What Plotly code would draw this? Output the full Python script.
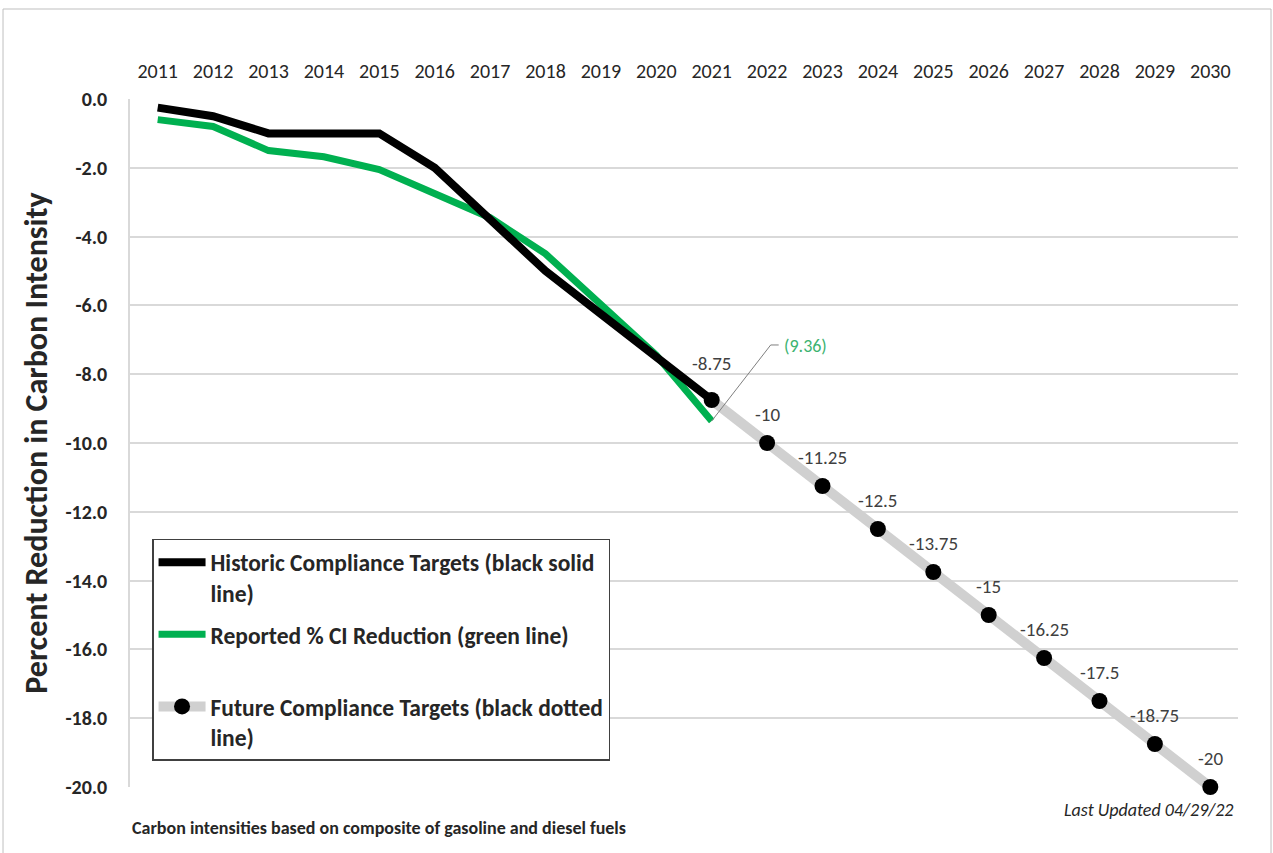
import plotly.graph_objects as go

years = list(range(2011, 2031))
year_labels = [str(y) for y in years]
hist_years = list(range(2011, 2022))
hist_values = [-0.25, -0.5, -1.0, -1.0, -1.0, -2.0, -3.5, -5.0, -6.25, -7.5, -8.75]
reported_years = list(range(2011, 2022))
reported_values = [-0.6, -0.8, -1.5, -1.68, -2.05, -2.75, -3.45, -4.5, -6.0, -7.45, -9.36]
future_years = list(range(2021, 2031))
future_values = [-8.75, -10, -11.25, -12.5, -13.75, -15, -16.25, -17.5, -18.75, -20]
y_ticks = [0, -2, -4, -6, -8, -10, -12, -14, -16, -18, -20]
y_tick_labels = ["0.0", "-2.0", "-4.0", "-6.0", "-8.0", "-10.0", "-12.0",
                 "-14.0", "-16.0", "-18.0", "-20.0"]

FONT = "Carlito, Calibri, Lato, sans-serif"
GREEN = "#00B050"
TEXT = "#262626"

fig = go.Figure()
fig.add_trace(go.Scatter(
    x=future_years, y=future_values, mode="lines+markers",
    name="Future Compliance Targets (black dotted<br>line)",
    line=dict(color="#D0D0D0", width=10),
    marker=dict(color="black", size=16),
    cliponaxis=False, legendrank=3, legendgroup="c",
))
fig.add_trace(go.Scatter(
    x=reported_years, y=reported_values, mode="lines",
    name="Reported % CI Reduction (green line)<br> ",
    line=dict(color=GREEN, width=7),
    legendrank=2, legendgroup="b",
))
fig.add_trace(go.Scatter(
    x=hist_years, y=hist_values, mode="lines",
    name="Historic Compliance Targets (black solid<br>line)",
    line=dict(color="black", width=8),
    legendrank=1, legendgroup="a",
))

# data labels for the future targets
for i, (xv, yv) in enumerate(zip(future_years, future_values)):
    fig.add_annotation(
        x=xv, y=yv, text=f"{yv:g}", showarrow=False,
        yshift=37 if i == 0 else 29,
        font=dict(family=FONT, size=19, color="#404040"),
    )

# reported final value callout
fig.add_annotation(
    x=reported_years[-1], y=reported_values[-1],
    text=f"({abs(reported_values[-1]):.2f})", showarrow=False,
    xanchor="left", xshift=70, yshift=75,
    font=dict(family=FONT, size=18, color="#3CB371"),
)
fig.add_shape(type="line", xref="x", yref="y",
              xsizemode="pixel", ysizemode="pixel",
              xanchor=reported_years[-1], yanchor=reported_values[-1],
              x0=0, y0=0, x1=59, y1=76,
              line=dict(color="#7F7F7F", width=1))
fig.add_shape(type="line", xref="x", yref="y",
              xsizemode="pixel", ysizemode="pixel",
              xanchor=reported_years[-1], yanchor=reported_values[-1],
              x0=59, y0=76, x1=67, y1=76,
              line=dict(color="#7F7F7F", width=1))

# outer chart border
fig.add_shape(type="rect", xref="paper", yref="paper",
              x0=-0.1146, x1=1.0298, y0=-0.11, y1=1.1308,
              line=dict(color="#BFBFBF", width=1), layer="below")

# bottom texts
fig.add_annotation(
    xref="paper", yref="paper", x=0.0, y=-0.06, xanchor="left", yanchor="middle",
    text="<b>Carbon intensities based on composite of gasoline and diesel fuels</b>",
    showarrow=False, font=dict(family=FONT, size=18, color=TEXT),
)
fig.add_annotation(
    xref="paper", yref="paper", x=0.998, y=-0.0335, xanchor="right", yanchor="middle",
    text="<i>Last Updated 04/29/22</i>",
    showarrow=False, font=dict(family=FONT, size=18, color=TEXT),
)

fig.update_layout(
    width=1273, height=853,
    margin=dict(l=130, r=35, t=99, b=66),
    paper_bgcolor="white", plot_bgcolor="white",
    font=dict(family=FONT, color=TEXT),
    showlegend=True,
    legend=dict(
        x=0.0199, y=0.3605, xanchor="left", yanchor="top",
        bgcolor="white", bordercolor="#404040", borderwidth=1.5,
        font=dict(family=FONT, size=23.5, color=TEXT, weight="bold"),
        valign="top", itemwidth=47, tracegroupgap=8,
        traceorder="grouped",
    ),
    xaxis=dict(
        range=[2010.5, 2030.5], side="top",
        tickmode="array", tickvals=years, ticktext=year_labels,
        showgrid=False, zeroline=False, showline=False,
        ticks="outside", ticklen=12, tickcolor="rgba(0,0,0,0)",
        tickfont=dict(family=FONT, size=20, color=TEXT),
    ),
    yaxis=dict(
        range=[-20, 0], tickmode="array", tickvals=y_ticks, ticktext=y_tick_labels,
        showgrid=True, gridcolor="#D9D9D9", gridwidth=1.5,
        zeroline=False, showline=True, linecolor="#D9D9D9", linewidth=1.5,
        ticks="outside", ticklen=17, tickcolor="rgba(0,0,0,0)",
        tickfont=dict(family=FONT, size=20, color=TEXT, weight="bold"),
        title=dict(text="Percent Reduction in Carbon Intensity", standoff=8,
                   font=dict(family=FONT, size=32, color=TEXT, weight="bold")),
    ),
)

fig.write_html("out.html")
